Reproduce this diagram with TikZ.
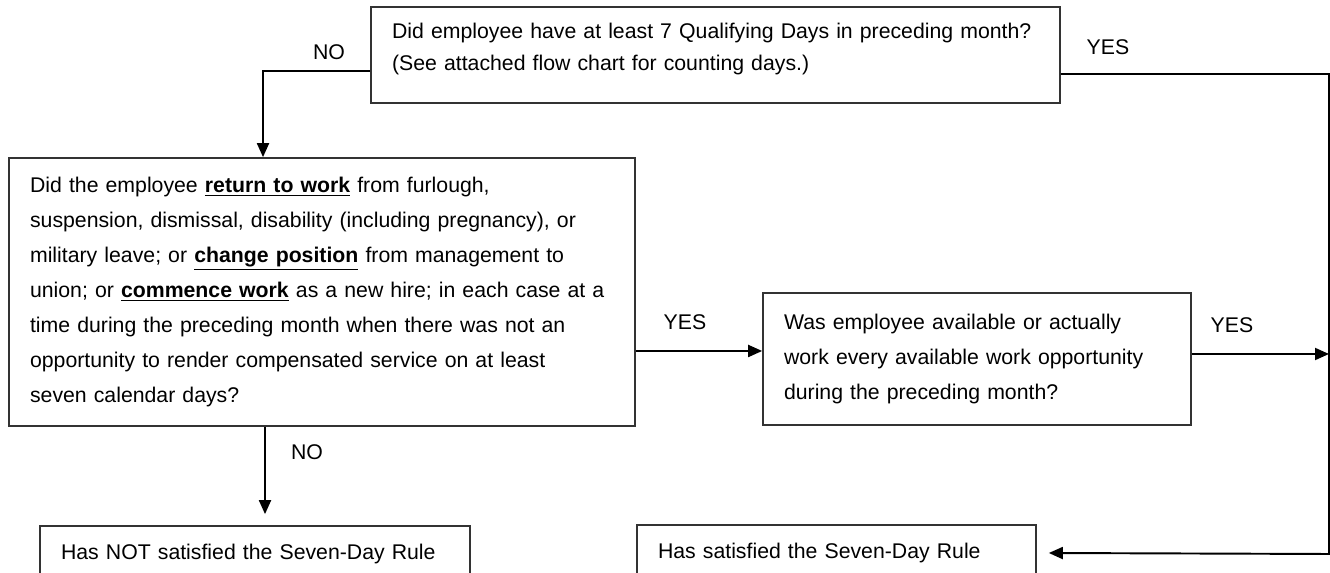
\documentclass[tikz,border=0pt]{standalone}
\usepackage{fontspec}
\setmainfont{Liberation Sans}
\usetikzlibrary{arrows.meta}

\begin{document}
\begin{tikzpicture}[x=0.02cm, y=-0.02cm, every node/.style={font=\fontsize{12.1}{19.9}\selectfont},
    box/.style={draw=black!80, line width=1pt, inner xsep=0.42cm, inner ysep=0pt, align=left},
    lbl/.style={inner sep=0pt},
    flow/.style={line width=1.1pt, -{Triangle[length=0.28cm,width=0.24cm]}}]
  \useasboundingbox (0,0) rectangle (1330,573);
  \clip (0,0) rectangle (1330,573);

  % questions
  \node[box, text width=12.94cm, minimum height=1.92cm, text depth=0.98cm, font=\fontsize{12.1}{18.2}\selectfont] (days) at (715.5,55)
    {Did employee have at least 7 Qualifying Days in preceding month?\\(See attached flow chart for counting days.)};
  \node[box, text width=11.68cm, minimum height=5.36cm] (change) at (322,292)
    {Did the employee \underline{\textbf{return to work}} from furlough,\\
     suspension, dismissal, disability (including pregnancy), or\\
     military leave; or \underline{\textbf{change position}} from management to\\
     union; or \underline{\textbf{commence work}} as a new hire; in each case at a\\
     time during the preceding month when there was not an\\
     opportunity to render compensated service on at least\\
     seven calendar days?};
  \node[box, text width=7.72cm, minimum height=2.64cm] (avail) at (977,359)
    {Was employee available or actually\\work every available work opportunity\\during the preceding month?};

  % outcomes
  \node[box, text width=7.76cm, minimum height=1.12cm] (notmet) at (255,554) {Has NOT satisfied the Seven-Day Rule};
  \node[box, text width=7.14cm, minimum height=1.12cm] (met) at (836.5,553) {Has satisfied the Seven-Day Rule};

  \coordinate (corner) at (1329,554);

  \draw[flow] ([yshift=-0.32cm]days.west) -| ([xshift=-1.18cm]change.north);
  \draw[flow] ([yshift=-0.38cm]days.east) -| (corner) -- ([xshift=0.24cm]met.east);
  \draw[flow] ([yshift=-1.18cm]change.east) -- ([yshift=-1.18cm]change.east -| avail.west);
  \draw[flow] ([yshift=0.1cm]avail.east) -- ([yshift=0.1cm]avail.east -| corner);
  \draw[flow, shorten >=0.22cm] ([xshift=-1.14cm]change.south) -- ([xshift=-1.14cm]change.south |- notmet.north);

  \node[lbl] (no1) at (329,52) {NO};
  \node[lbl] (yes1) at (1108,47) {YES};
  \node[lbl] (yes2) at (685,322) {YES};
  \node[lbl] (yes3) at (1232,325) {YES};
  \node[lbl] (no2) at (307,452) {NO};
\end{tikzpicture}
\end{document}
